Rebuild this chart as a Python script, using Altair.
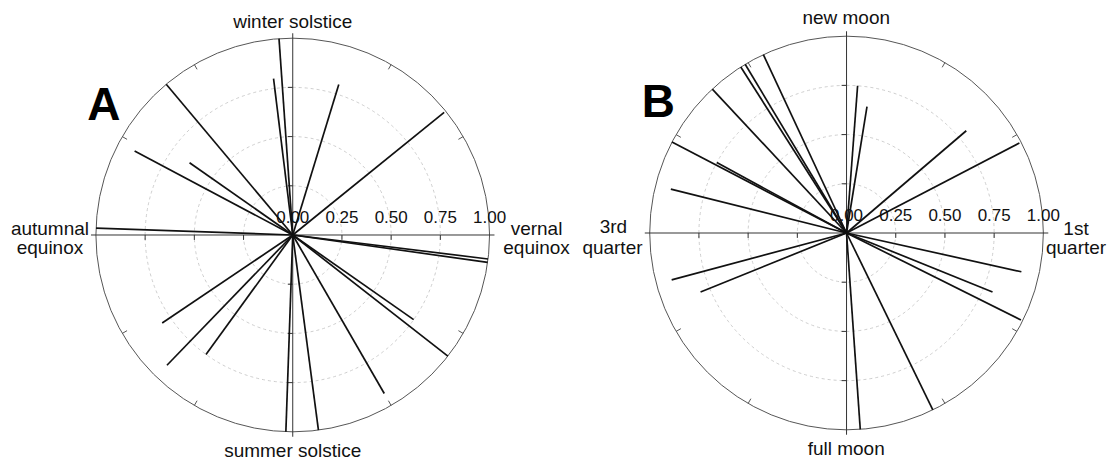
import math
import altair as alt
import pandas as pd

# ---- data: vector direction (degrees clockwise from top) and vector length ----
A_angle = [356, 353, 17, 51, 320, 298, 305, 272, 97, 98, 125, 128, 150, 172.5, 182, 236, 224, 216]
A_len = [1.0, 0.80, 0.80, 0.99, 1.0, 0.91, 0.64, 1.0, 1.0, 1.0, 0.75, 1.0, 0.93, 1.0, 1.0, 0.80, 0.92, 0.75]

B_angle = [335, 329, 327.5, 317, 297.5, 298.5, 284, 4.3, 9.2, 49.5, 62.5, 102.5, 112, 116.5, 154, 176, 255, 248]
B_len = [1.0, 1.0, 1.0, 1.0, 1.0, 0.75, 0.92, 0.75, 0.65, 0.80, 0.99, 0.91, 0.80, 0.99, 1.0, 1.0, 0.92, 0.80]

grid_levels = [0.25, 0.5, 0.75]
tick_values = [0.0, 0.25, 0.5, 0.75, 1.0]
tick_labels = ["0.00", "0.25", "0.50", "0.75", "1.00"]
axis_tick_pos = [-0.75, -0.5, -0.25, 0.25, 0.5, 0.75]
rim_tick_deg = [30, 60, 120, 150, 210, 240, 300, 330]

A_labels = ["winter solstice", "summer solstice", "autumnal", "equinox", "vernal", "equinox"]
B_labels = ["new moon", "full moon", "3rd", "quarter", "1st", "quarter"]

# ---- layout (page pixels) ----
R = 197.0
H = 443
TOP = 8
FONT = "Liberation Sans"

A_layout = dict(left=8, width=567, cx=293.0, cy=235.0,
                label_xy=[(293, 28), (293, 457), (50, 235), (50, 254), (537, 235), (537, 254)],
                letter="A", letter_xy=(104, 120))
B_layout = dict(left=575, width=532, cx=847.3, cy=233.0,
                label_xy=[(847, 24), (847, 455), (614, 233), (613, 254), (1077, 235), (1077, 254)],
                letter="B", letter_xy=(659, 117))


def panel(angles, lens, labels, L):
    lx = L["cx"] - L["left"]
    ly = L["cy"] - TOP
    w = L["width"]
    xs = alt.Scale(domain=[-lx / R, (w - lx) / R], nice=False, zero=False)
    ys = alt.Scale(domain=[-(H - ly) / R, ly / R], nice=False, zero=False)

    def X(v=None, f=None):
        return alt.X(f, scale=xs, axis=None) if f else alt.X(datum=v, scale=xs, axis=None)

    def Y(v=None, f=None):
        return alt.Y(f, scale=ys, axis=None) if f else alt.Y(datum=v, scale=ys, axis=None)

    one = pd.DataFrame({"k": [0]})
    layers = []
    for lev in grid_levels:
        layers.append(alt.Chart(one).mark_arc(
            theta=0, theta2=2 * math.pi, radius=R * lev, filled=False, stroke="#c8c8c8",
            strokeWidth=0.9, strokeDash=[3, 3]
        ).encode(x=X(0), y=Y(0)))

    layers.append(alt.Chart(one).mark_arc(
        theta=0, theta2=2 * math.pi, radius=R, filled=False, stroke="#555555", strokeWidth=1
    ).encode(x=X(0), y=Y(0)))

    layers.append(alt.Chart(pd.DataFrame({"a": rim_tick_deg})).transform_calculate(
        xa="0.972*sin(datum.a*PI/180)", ya="0.972*cos(datum.a*PI/180)",
        xb="sin(datum.a*PI/180)", yb="cos(datum.a*PI/180)"
    ).mark_rule(color="#555555", strokeWidth=1).encode(
        x=X(f="xa:Q"), y=Y(f="ya:Q"), x2="xb:Q", y2="yb:Q"))

    layers.append(alt.Chart(one).mark_rule(color="#333333", strokeWidth=1).encode(
        x=X(-1.025), x2=alt.X2(datum=1.025), y=Y(0)))
    layers.append(alt.Chart(one).mark_rule(color="#333333", strokeWidth=1).encode(
        y=Y(-1.025), y2=alt.Y2(datum=1.025), x=X(0)))

    tick_df = pd.DataFrame({"p": axis_tick_pos})
    layers.append(alt.Chart(tick_df).mark_rule(color="#333333", strokeWidth=1).encode(
        x=X(f="p:Q"), y=Y(0), y2=alt.Y2(datum=-0.025)))
    layers.append(alt.Chart(tick_df).mark_rule(color="#333333", strokeWidth=1).encode(
        y=Y(f="p:Q"), x=X(0), x2=alt.X2(datum=-0.025)))

    layers.append(alt.Chart(pd.DataFrame({"angle": angles, "len": lens})).transform_calculate(
        vx="datum.len*sin(datum.angle*PI/180)", vy="datum.len*cos(datum.angle*PI/180)"
    ).mark_rule(color="#111111", strokeWidth=1.7).encode(
        x=X(f="vx:Q"), y=Y(f="vy:Q"), x2=alt.X2(datum=0), y2=alt.Y2(datum=0)))

    layers.append(alt.Chart(pd.DataFrame({"v": tick_values, "t": tick_labels})).mark_text(
        font=FONT, fontSize=17, color="#111111", baseline="alphabetic", align="center", dy=-12
    ).encode(x=X(f="v:Q"), y=Y(0), text="t:N"))

    ldf = pd.DataFrame({
        "t": labels,
        "lx": [(p[0] - L["cx"]) / R for p in L["label_xy"]],
        "ly": [(L["cy"] - p[1]) / R for p in L["label_xy"]],
    })
    layers.append(alt.Chart(ldf).mark_text(
        font=FONT, fontSize=19, color="#111111", baseline="alphabetic", align="center"
    ).encode(x=X(f="lx:Q"), y=Y(f="ly:Q"), text="t:N"))

    lxp, lyp = L["letter_xy"]
    layers.append(alt.Chart(pd.DataFrame({"t": [L["letter"]]})).mark_text(
        font=FONT, fontSize=46, fontWeight="bold", color="#000000",
        baseline="alphabetic", align="center"
    ).encode(x=X((lxp - L["cx"]) / R), y=Y((L["cy"] - lyp) / R), text="t:N"))

    return alt.layer(*layers).properties(width=w, height=H)


pA = panel(A_angle, A_len, A_labels, A_layout)
pB = panel(B_angle, B_len, B_labels, B_layout)

chart = alt.hconcat(pA, pB, spacing=0, bounds="flush").properties(
    padding=0, background="white"
).configure_view(stroke=None)

chart.save("out.html", embed_options={"renderer": "svg", "actions": False})
